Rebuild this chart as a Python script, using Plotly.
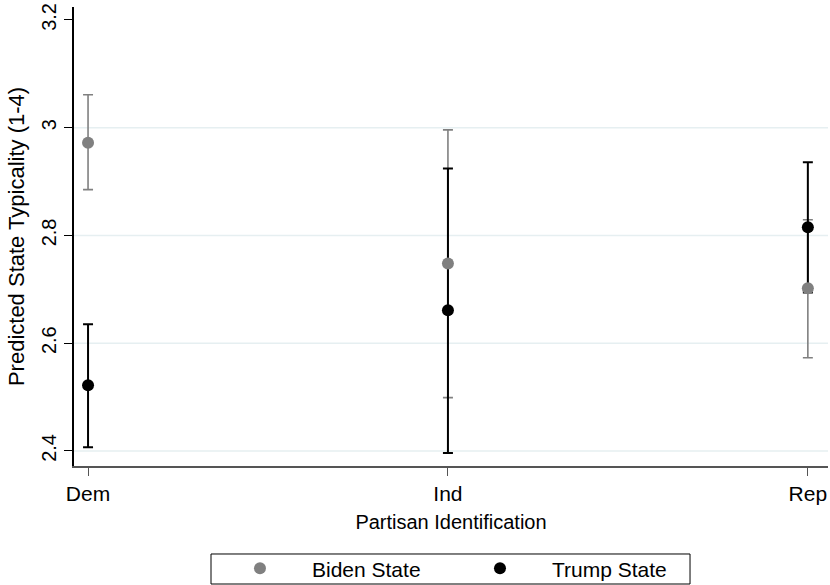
import plotly.graph_objects as go

categories = ["Dem", "Ind", "Rep"]
xpos = [1, 2, 3]
biden_mean = [2.972, 2.748, 2.702]
biden_lo = [2.885, 2.499, 2.573]
biden_hi = [3.061, 2.996, 2.829]
trump_mean = [2.522, 2.661, 2.815]
trump_lo = [2.407, 2.396, 2.694]
trump_hi = [2.635, 2.924, 2.936]
yticks = [2.4, 2.6, 2.8, 3.0, 3.2]
ytick_text = ["2.4", "2.6", "2.8", "3", "3.2"]
grid_vals = [2.4, 2.6, 2.8, 3.0]

GREY = "#808080"
BLACK = "#000000"
FONT = "Liberation Sans, Arial, Helvetica, sans-serif"

def errs(mean, lo, hi):
    return [h - m for m, h in zip(mean, hi)], [m - l for m, l in zip(mean, lo)]

bp, bm = errs(biden_mean, biden_lo, biden_hi)
tp, tm = errs(trump_mean, trump_lo, trump_hi)

fig = go.Figure()
fig.add_trace(go.Scatter(
    x=xpos, y=biden_mean, mode="markers", showlegend=False, hoverinfo="skip",
    marker=dict(color="rgba(0,0,0,0)", size=1),
    error_y=dict(type="data", symmetric=False, array=bp, arrayminus=bm,
                 color=GREY, thickness=1.6, width=5)))
fig.add_trace(go.Scatter(
    x=xpos, y=trump_mean, mode="markers", showlegend=False, hoverinfo="skip",
    marker=dict(color="rgba(0,0,0,0)", size=1),
    error_y=dict(type="data", symmetric=False, array=tp, arrayminus=tm,
                 color=BLACK, thickness=2, width=5)))
fig.add_trace(go.Scatter(
    x=xpos, y=biden_mean, mode="markers", name="Biden State",
    marker=dict(color=GREY, size=12)))
fig.add_trace(go.Scatter(
    x=xpos, y=trump_mean, mode="markers", name="Trump State",
    marker=dict(color=BLACK, size=12)))

shapes = []
for g in grid_vals:
    shapes.append(dict(type="line", xref="paper", yref="y", x0=0, x1=1, y0=g, y1=g,
                       line=dict(color="#e6eff1", width=1.5), layer="below"))
# legend frame
shapes.append(dict(type="rect", xref="paper", yref="paper",
                   x0=0.1817, x1=0.8170, y0=-0.2571, y1=-0.1917,
                   line=dict(color="#000000", width=1)))

fig.update_layout(
    width=830, height=585,
    margin=dict(l=74, r=2, t=7, b=119, autoexpand=False),
    paper_bgcolor="white", plot_bgcolor="white",
    font=dict(family=FONT, size=20, color="#000000"),
    shapes=shapes,
    showlegend=True,
    legend=dict(orientation="h", x=0.1777, y=-0.179, xanchor="left", yanchor="top",
                bgcolor="rgba(0,0,0,0)", borderwidth=0, itemwidth=94,
                entrywidth=131, font=dict(size=21), maxheight=200),
    xaxis=dict(range=[0.961, 3.056], tickvals=xpos, ticktext=categories,
               automargin=False, tickfont=dict(size=21),
               showgrid=False, zeroline=False, showline=True, linecolor="#555555",
               linewidth=1.5, ticks="outside", ticklen=8, tickcolor="#555555",
               title=dict(text="Partisan Identification", standoff=11,
                          font=dict(size=20))),
    yaxis=dict(range=[2.372, 3.224], tickvals=yticks, ticktext=ytick_text,
               automargin=False, tickfont=dict(size=20),
               tickangle=-90, showgrid=False, zeroline=False, showline=True,
               linecolor="#000000", linewidth=1.5, ticks="outside", ticklen=8,
               tickcolor="#000000",
               title=dict(text="Predicted State Typicality (1-4)", standoff=8,
                          font=dict(size=22))),
)

fig.write_html(
    "out.html",
    config={"displayModeBar": False},
    post_script="document.body.style.margin='0';document.body.style.overflow='hidden';",
)
